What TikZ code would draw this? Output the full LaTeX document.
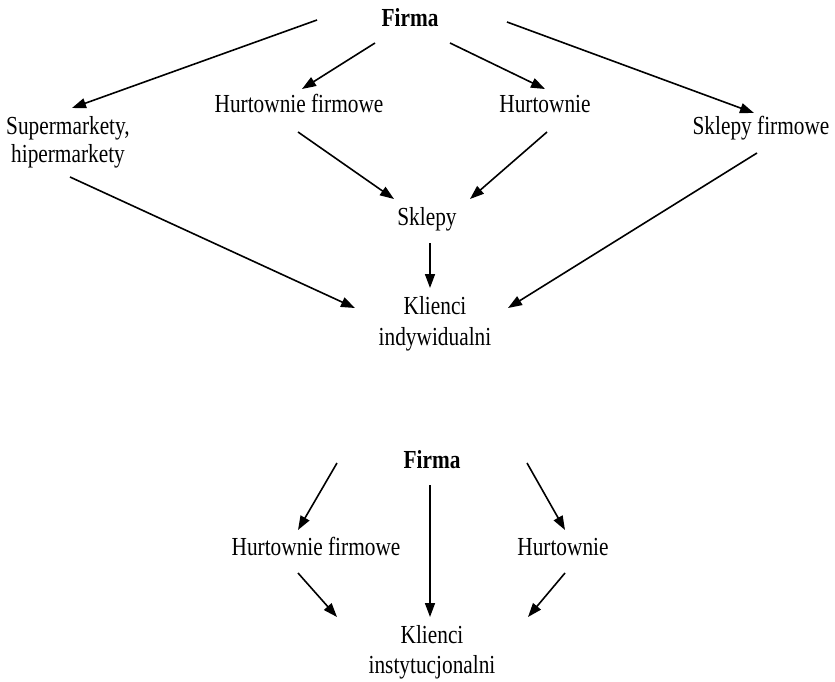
\documentclass[tikz,border=0pt]{standalone}
\usepackage{graphicx}
\usepackage{fontspec}
\setmainfont{Liberation Serif}
\usetikzlibrary{arrows.meta}
% narrow, tall lettering
\newcommand{\nrw}[1]{\scalebox{0.82}[1]{#1}}
\begin{document}
\begin{tikzpicture}[x=1pt,y=-1pt,
  lbl/.style={inner sep=0pt,anchor=base,font=\fontsize{26}{30}\selectfont},
  bold/.style={lbl,font=\fontsize{26}{30}\selectfont\bfseries},
  arr/.style={line width=1.6pt,-{Triangle[length=14pt,width=10pt]}}]
\useasboundingbox (0,0) rectangle (835,682);

% ---- distribution of consumer goods ----
\node[bold] (firma1) at (410,27) {\nrw{Firma}};
\node[lbl] (hf1) at (299,113) {\nrw{Hurtownie firmowe}};
\node[lbl] (h1) at (545,113) {\nrw{Hurtownie}};
\node[lbl] (sf1) at (761,135) {\nrw{Sklepy firmowe}};
\node[lbl] (sup1) at (68,135) {\nrw{Supermarkety,}};
\node[lbl] (sup2) at (68,162) {\nrw{hipermarkety}};
\node[lbl] (skl) at (427,225) {\nrw{Sklepy}};
\node[lbl] (ki1) at (435,314) {\nrw{Klienci}};
\node[lbl] (ki2) at (435,345) {\nrw{indywidualni}};

\coordinate (a1s) at (317,20);  \coordinate (a1e) at (72,108);
\coordinate (a2s) at (375,43);  \coordinate (a2e) at (302,89);
\coordinate (a3s) at (450,43);  \coordinate (a3e) at (545,89);
\coordinate (a4s) at (507,22);  \coordinate (a4e) at (754,113);
\coordinate (a5s) at (298,132); \coordinate (a5e) at (394,199);
\coordinate (a6s) at (547,132); \coordinate (a6e) at (470,199);
\coordinate (a7s) at (430,243); \coordinate (a7e) at (430,288);
\coordinate (a8s) at (70,177);  \coordinate (a8e) at (355,308);
\coordinate (a9s) at (757,153); \coordinate (a9e) at (508,308);

\draw[arr] (a1s) -- (a1e);
\draw[arr] (a2s) -- (a2e);
\draw[arr] (a3s) -- (a3e);
\draw[arr] (a4s) -- (a4e);
\draw[arr] (a5s) -- (a5e);
\draw[arr] (a6s) -- (a6e);
\draw[arr] (a7s) -- (a7e);
\draw[arr] (a8s) -- (a8e);
\draw[arr] (a9s) -- (a9e);

% ---- distribution to institutional clients ----
\node[bold] (firma2) at (432,468) {\nrw{Firma}};
\node[lbl] (hf2) at (316,555) {\nrw{Hurtownie firmowe}};
\node[lbl] (h2) at (563,555) {\nrw{Hurtownie}};
\node[lbl] (kin1) at (432,643) {\nrw{Klienci}};
\node[lbl] (kin2) at (432,673) {\nrw{instytucjonalni}};

\coordinate (b1s) at (337,463); \coordinate (b1e) at (298,530);
\coordinate (b2s) at (430,485); \coordinate (b2e) at (430,617);
\coordinate (b3s) at (527,463); \coordinate (b3e) at (565,530);
\coordinate (b4s) at (298,573); \coordinate (b4e) at (337,617);
\coordinate (b5s) at (565,573); \coordinate (b5e) at (528,617);

\draw[arr] (b1s) -- (b1e);
\draw[arr] (b2s) -- (b2e);
\draw[arr] (b3s) -- (b3e);
\draw[arr] (b4s) -- (b4e);
\draw[arr] (b5s) -- (b5e);
\end{tikzpicture}
\end{document}
